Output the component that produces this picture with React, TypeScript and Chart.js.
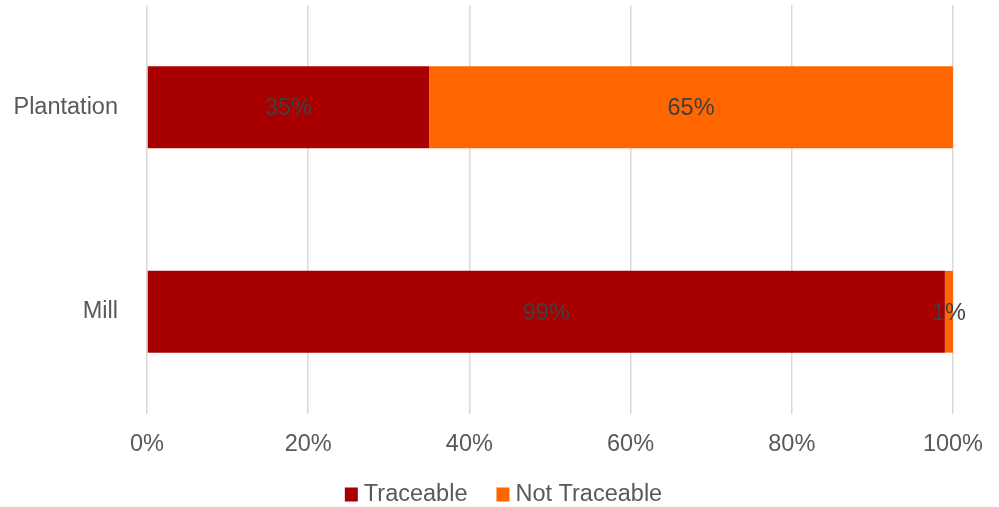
import React, { useEffect, useRef } from "react";
import { Chart, registerables } from "chart.js";

Chart.register(...registerables);

const categories = ["Plantation", "Mill"];
const traceable = [35, 99];
const notTraceable = [65, 1];
const xTicks = [0, 20, 40, 60, 80, 100];
const seriesNames = ["Traceable", "Not Traceable"];
const seriesColors = ["#A80000", "#FF6600"];

const FONT = "'Liberation Sans', Arial, sans-serif";
const FS = 23.5;

const dataLabels = {
  id: "dataLabels",
  afterDatasetsDraw(chart: any) {
    const ctx = chart.ctx;
    ctx.save();
    ctx.font = `${FS}px ${FONT}`;
    ctx.fillStyle = "#404040";
    ctx.textAlign = "center";
    ctx.textBaseline = "middle";
    chart.data.datasets.forEach((ds: any, di: number) => {
      const meta = chart.getDatasetMeta(di);
      meta.data.forEach((el: any, i: number) => {
        const v = ds.data[i];
        const cx = (el.x + el.base) / 2;
        ctx.fillText(`${v}%`, cx, el.y + 1.5);
      });
    });
    ctx.restore();
  },
};

const customLegend = {
  id: "customLegend",
  afterDraw(chart: any) {
    const ctx = chart.ctx;
    ctx.save();
    ctx.font = `${FS}px ${FONT}`;
    const box = 13;
    const gap = 6;
    const itemGap = 29;
    const widths = seriesNames.map((n) => ctx.measureText(n).width);
    let total = 0;
    widths.forEach((w, i) => {
      total += box + gap + w + (i < widths.length - 1 ? itemGap : 0);
    });
    let x = chart.width / 2 + 4 - total / 2;
    const cy = 495;
    ctx.textBaseline = "middle";
    ctx.textAlign = "left";
    seriesNames.forEach((n, i) => {
      ctx.fillStyle = seriesColors[i];
      ctx.fillRect(x, cy - box / 2 - 1, box, box + 1);
      x += box + gap;
      ctx.fillStyle = "#595959";
      ctx.fillText(n, x, cy);
      x += widths[i] + itemGap;
    });
    ctx.restore();
  },
};

export default function App() {
  const ref = useRef<HTMLCanvasElement>(null);
  useEffect(() => {
    document.body.style.margin = "0";
    const chart = new Chart(ref.current!, {
      type: "bar",
      data: {
        labels: categories,
        datasets: [
          { label: seriesNames[0], data: traceable, backgroundColor: seriesColors[0], barPercentage: 0.4, categoryPercentage: 1 },
          { label: seriesNames[1], data: notTraceable, backgroundColor: seriesColors[1], barPercentage: 0.4, categoryPercentage: 1 },
        ],
      },
      options: {
        indexAxis: "y",
        animation: false,
        responsive: false,
        devicePixelRatio: 1,
        layout: { padding: { left: 0, right: 46, top: 5, bottom: 34 } },
        scales: {
          x: {
            stacked: true,
            min: 0,
            max: 100,
            afterBuildTicks: (s: any) => {
              s.ticks = xTicks.map((v) => ({ value: v }));
            },
            ticks: {
              callback: (v: any) => `${v}%`,
              color: "#595959",
              font: { family: FONT, size: FS },
              padding: 16,
              maxRotation: 0,
            },
            grid: { color: "#D9D9D9", lineWidth: 1.5, drawTicks: false },
            border: { display: false },
            afterFit: (s: any) => {
              s.height = 59;
            },
          },
          y: {
            stacked: true,
            ticks: {
              color: "#595959",
              font: { family: FONT, size: FS },
              padding: 21,
            },
            grid: { display: false },
            border: { display: false },
            afterFit: (s: any) => {
              s.width = 147;
              s.paddingTop = 0;
              s.paddingBottom = 0;
            },
          },
        },
        plugins: {
          legend: { display: false },
          tooltip: { enabled: false },
        },
      },
      plugins: [dataLabels, customLegend],
    });
    return () => chart.destroy();
  }, []);
  return (
    <div style={{ position: "absolute", left: 0, top: 0, width: 999, height: 507 }}>
      <canvas ref={ref} width={999} height={507} style={{ width: 999, height: 507 }} />
    </div>
  );
}
